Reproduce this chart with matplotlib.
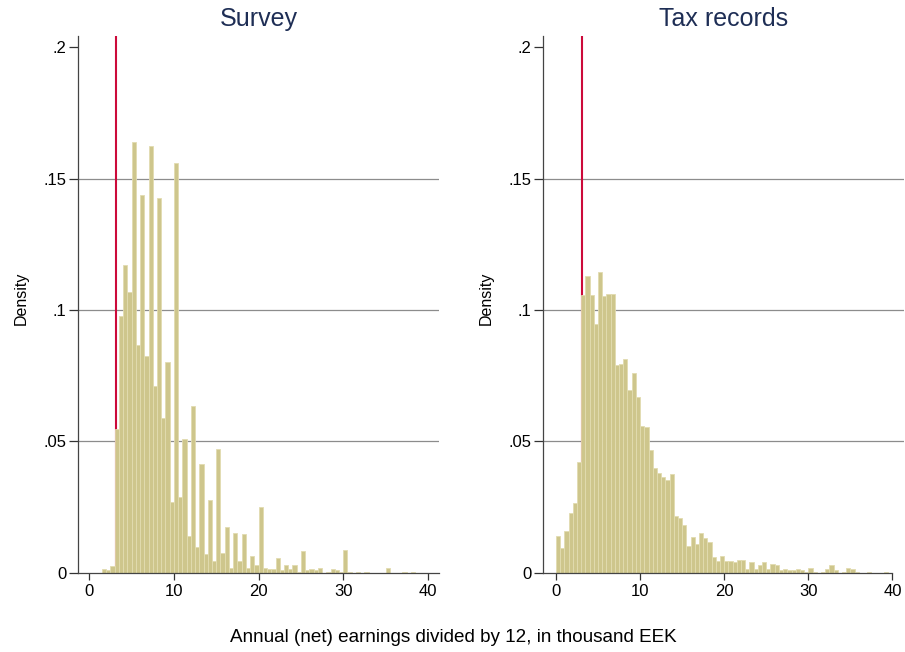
import numpy as np
import matplotlib
matplotlib.use('Agg')
from matplotlib import pyplot as plt

plt.rcParams['font.family'] = ['Liberation Sans', 'DejaVu Sans']

bin_width = 0.5
bin_left = np.arange(0, 40, bin_width)
min_wage = 3.15

# density per 0.5 bin, 0 .. 39.5
survey = [0, 0, 0, 0.0014, 0.0009, 0.0026, 0.0548, 0.0978, 0.117, 0.107,
          0.164, 0.0867, 0.1438, 0.0826, 0.1624, 0.0712, 0.1428, 0.0589, 0.0801, 0.027,
          0.156, 0.0287, 0.0509, 0.0141, 0.0636, 0.0096, 0.0414, 0.0071, 0.0278, 0.0045,
          0.0472, 0.0075, 0.0173, 0.0019, 0.0152, 0.0045, 0.0146, 0.0019, 0.0065, 0.0029,
          0.0249, 0.0019, 0.0014, 0.0013, 0.0055, 0.0009, 0.0029, 0.0014, 0.0029, 0.0004,
          0.0081, 0.0009, 0.0014, 0.0009, 0.0019, 0, 0.0004, 0.0014, 0.0009, 0.0004,
          0.0086, 0.0004, 0, 0.0004, 0, 0.0004, 0, 0, 0, 0,
          0.0019, 0, 0, 0, 0.0004, 0, 0.0004, 0, 0, 0]

tax = [0.014, 0.0094, 0.0159, 0.0229, 0.0265, 0.0422, 0.1056, 0.1131, 0.1058, 0.0948,
       0.1146, 0.1055, 0.1061, 0.1061, 0.0791, 0.0796, 0.0813, 0.0696, 0.0761, 0.067,
       0.056, 0.0553, 0.0467, 0.0398, 0.0379, 0.0364, 0.0354, 0.0375, 0.0214, 0.0208,
       0.0183, 0.0101, 0.0137, 0.0111, 0.0152, 0.0132, 0.0116, 0.006, 0.0045, 0.0065,
       0.0045, 0.0045, 0.004, 0.005, 0.005, 0.0014, 0.004, 0.0014, 0.0029, 0.004,
       0.0014, 0.0035, 0.0029, 0.0009, 0.0014, 0.0009, 0.0009, 0.0014, 0.0009, 0.0004,
       0.0019, 0.0004, 0, 0.0004, 0.0014, 0.0029, 0.0009, 0, 0.0004, 0.0019,
       0.0014, 0.0004, 0, 0, 0.0004, 0, 0, 0, 0.0004, 0]

xticks = [0, 10, 20, 30, 40]
yticks = [0, 0.05, 0.1, 0.15, 0.2]
ytick_labels = ['0', '.05', '.1', '.15', '.2']

W, H = 905, 652
fig = plt.figure(figsize=(W / 100, H / 100), dpi=100)

def px_axes(x0, x1, y0, y1):
    return fig.add_axes([x0 / W, 1 - y1 / H, (x1 - x0) / W, (y1 - y0) / H])

def draw_panel(ax, dens, title, xlim, xaxis_end):
    ax.axvline(min_wage, color='#cc0a3a', lw=1.5, zorder=1)
    ax.bar(bin_left, dens, width=bin_width, align='edge', color='#cec68c',
           edgecolor='#e2dcb0', linewidth=0.6, zorder=2)
    for y in yticks[1:-1]:
        ax.axhline(y, color='#8c8c8c', lw=0.9, zorder=0)
    ax.set_xlim(*xlim)
    ax.set_ylim(0, 0.2043)
    ax.set_xticks(xticks)
    ax.set_yticks(yticks)
    ax.set_yticklabels(ytick_labels)
    ax.tick_params(axis='y', direction='out', length=6.5, width=0.9, pad=1.5,
                   labelsize=12, colors='#333333', labelcolor='black')
    ax.tick_params(axis='x', direction='out', length=4.8, width=0.9, pad=3.5,
                   labelsize=12, colors='#333333', labelcolor='black')
    for s in ['top', 'right']:
        ax.spines[s].set_visible(False)
    for s in ['left', 'bottom']:
        ax.spines[s].set_color('#444444')
        ax.spines[s].set_linewidth(0.9)
    ax.spines['bottom'].set_bounds(xlim[0], xaxis_end)
    ax.set_title(title, fontsize=18, color='#1e2e55', pad=7)

ax1 = px_axes(77.7, 439.3, 36, 572.7)
draw_panel(ax1, survey, 'Survey', (-1.37, 41.35), 41.35)
ax2 = px_axes(542.7, 904, 36, 572.7)
draw_panel(ax2, tax, 'Tax records', (-1.58, 41.37), 40.0)

fig.text(21 / W, 1 - 298 / H, 'Density', rotation=90, ha='center', va='center', fontsize=11.5)
fig.text(486 / W, 1 - 298 / H, 'Density', rotation=90, ha='center', va='center', fontsize=11.5)
fig.text(453.7 / W, 1 - 637 / H, 'Annual (net) earnings divided by 12, in thousand EEK',
         ha='center', va='center', fontsize=13.6)

fig.savefig('out.png', dpi=100)
